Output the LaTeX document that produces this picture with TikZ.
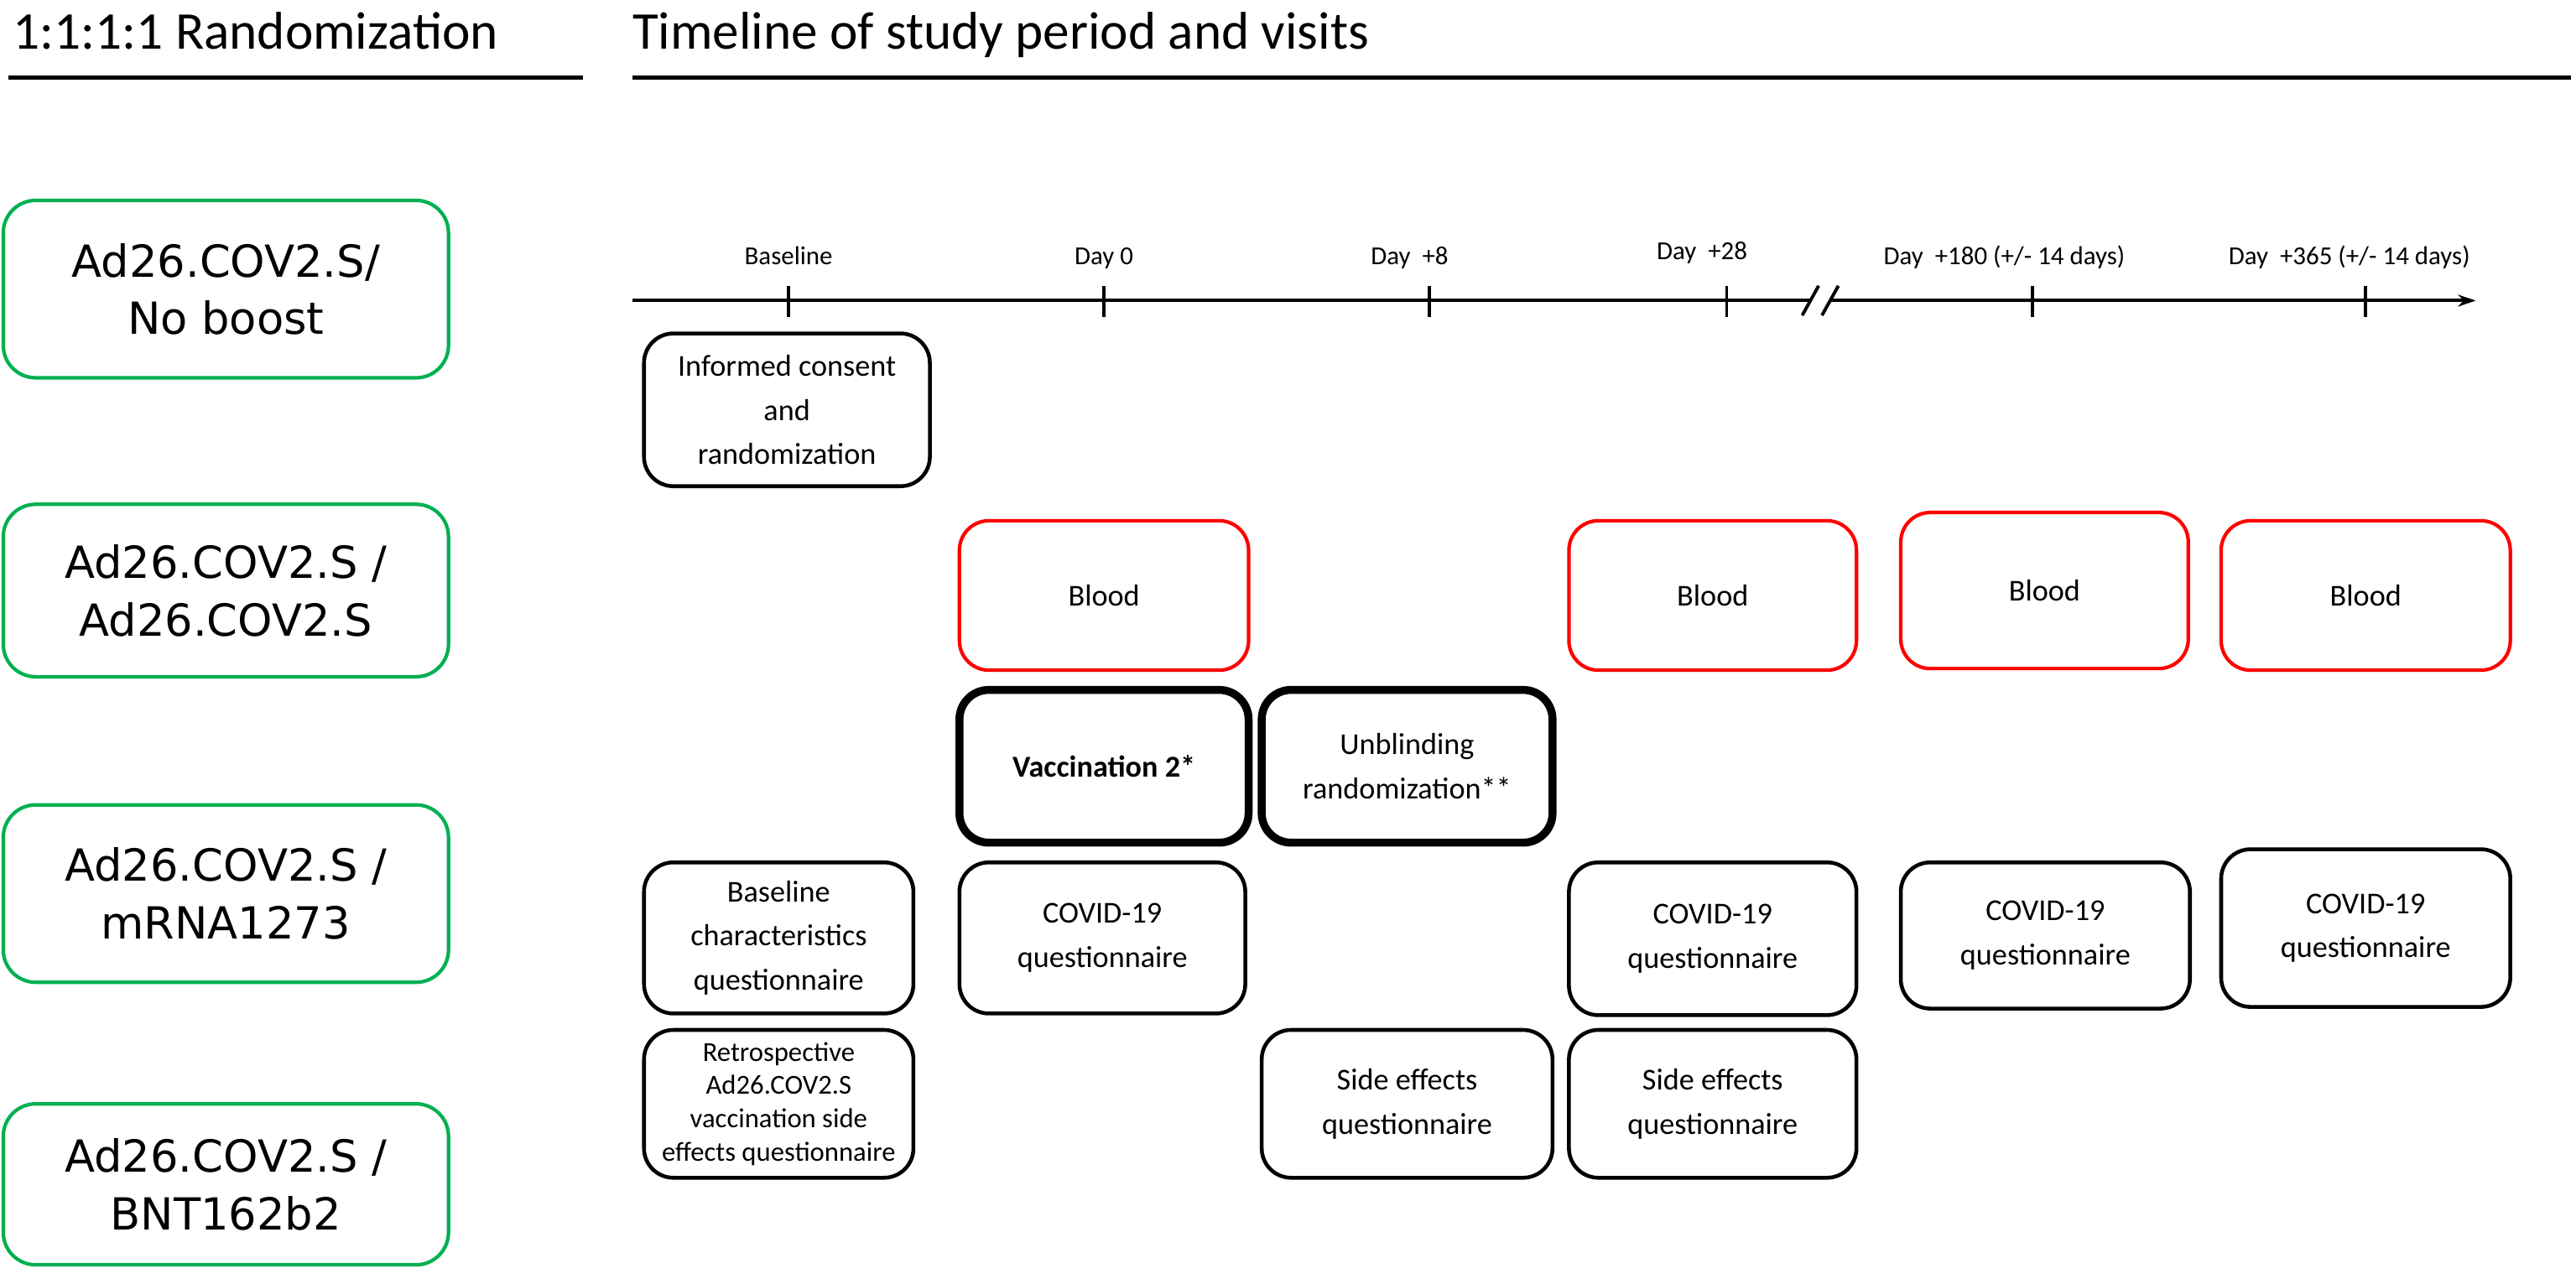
\documentclass[tikz,border=0pt]{standalone}
\usepackage{fontspec}
\setmainfont{Carlito}
\newfontfamily\armfont{DejaVu Sans}
\usetikzlibrary{arrows.meta}
\definecolor{grn}{RGB}{0,176,80}
\definecolor{rd}{RGB}{255,0,0}
\newcommand\boxat[7]{%
  \pgfmathsetmacro\myBW{(#5-#3)*0.019586}%
  \pgfmathsetmacro\myBH{(#6-#4)*0.019586}%
  \node[#2, minimum width=\myBW cm, minimum height=\myBH cm] (#1) at ({(#3+#5)/2},{(#4+#6)/2}) {#7};%
}
\begin{document}
\begin{tikzpicture}[x=0.019586cm,y=-0.019586cm,
  every node/.style={inner sep=0pt, outer sep=0pt},
  title/.style={anchor=base west, font=\fontsize{18}{22}\selectfont},
  rule/.style={line width=1.4pt},
  arm/.style={draw=grn, line width=1.2pt, rounded corners=11pt, align=center, font=\armfont\fontsize{15}{19.5}\selectfont},
  evt/.style={draw=black, line width=1.3pt, rounded corners=10pt, align=center, font=\fontsize{10.3}{15}\selectfont},
  evtthick/.style={evt, line width=2.7pt},
  blood/.style={evt, draw=rd, line width=1.2pt},
  small/.style={evt, font=\fontsize{9.3}{11.3}\selectfont},
  ticklab/.style={anchor=base, font=\fontsize{8.8}{11}\selectfont},
  axis/.style={line width=1.1pt},
]
\useasboundingbox (0,0) rectangle (1568,778.6);

% titles
\node[title] (t1) at (8,30) {1:1:1:1 Randomization};
\node[title] (t2) at (385,30) {Timeline of study period and visits};
\coordinate (r1a) at (5,47); \coordinate (r1b) at (355,47);
\coordinate (r2a) at (385,47); \coordinate (r2b) at (1565,47);
\draw[rule] (r1a) -- (r1b);
\draw[rule] (r2a) -- (r2b);

% arms
\boxat{a1}{arm}{2}{122}{273}{230}{Ad26.COV2.S/\\No boost}
\boxat{a2}{arm}{2}{307}{273}{412}{Ad26.COV2.S /\\Ad26.COV2.S}
\boxat{a3}{arm}{2}{490}{273}{598}{Ad26.COV2.S /\\mRNA1273}
\boxat{a4}{arm}{2}{672}{273}{770}{Ad26.COV2.S /\\BNT162b2}

% timeline axis
\coordinate (ax0) at (385,183); \coordinate (ax1) at (1507,183);
\draw[axis, -{Stealth[length=6pt,width=4pt]}] (ax0) -- (ax1);
\foreach \n/\x in {k0/480,k1/672,k2/870,k3/1051,k4/1237,k5/1440}{
  \coordinate (\n t) at (\x,174); \coordinate (\n b) at (\x,193);
  \draw[axis] (\n t) -- (\n b);
}
% break
\fill[white] (1100.3,186) -- (1103.7,180) -- (1115.7,180) -- (1112.3,186) -- cycle;
\coordinate (s1a) at (1097,192); \coordinate (s1b) at (1107,174);
\coordinate (s2a) at (1109,192); \coordinate (s2b) at (1119,174);
\draw[axis] (s1a) -- (s1b);
\draw[axis] (s2a) -- (s2b);

% tick labels
\node[ticklab] (l0) at (480,161) {Baseline};
\node[ticklab] (l1) at (672,161) {Day 0};
\node[ticklab] (l2) at (858,161) {Day \ +8};
\node[ticklab] (l3) at (1036,158) {Day \ +28};
\node[ticklab] (l4) at (1220,161) {Day \ +180 (+/- 14 days)};
\node[ticklab] (l5) at (1430,161) {Day \ +365 (+/- 14 days)};

% events
\boxat{ic}{evt}{392}{203}{566}{296}{Informed consent\\and\\randomization}
\boxat{b1}{blood}{584}{317}{760}{408}{Blood}
\boxat{b2}{blood}{955}{317}{1130}{408}{Blood}
\boxat{b3}{blood}{1157}{312}{1332}{407}{Blood}
\boxat{b4}{blood}{1352}{317}{1528}{408}{Blood}
\boxat{v2}{evtthick, font=\bfseries\fontsize{10.3}{15}\selectfont}{584}{420}{760}{513}{Vaccination 2*}
\boxat{ub}{evtthick}{768}{420}{945}{513}{Unblinding\\randomization**}
\boxat{bq}{evt}{392}{525}{556}{617}{Baseline\\characteristics\\questionnaire}
\boxat{c1}{evt}{584}{525}{758}{617}{COVID-19\\questionnaire}
\boxat{c2}{evt}{955}{525}{1130}{618}{COVID-19\\questionnaire}
\boxat{c3}{evt}{1157}{525}{1333}{614}{COVID-19\\questionnaire}
\boxat{c4}{evt}{1352}{517}{1528}{613}{COVID-19\\questionnaire}
\boxat{rq}{small}{392}{627}{556}{717}{Retrospective\\Ad26.COV2.S\\vaccination side\\effects questionnaire}
\boxat{se1}{evt}{768}{627}{945}{717}{Side effects\\questionnaire}
\boxat{se2}{evt}{955}{627}{1130}{717}{Side effects\\questionnaire}
\end{tikzpicture}
\end{document}
